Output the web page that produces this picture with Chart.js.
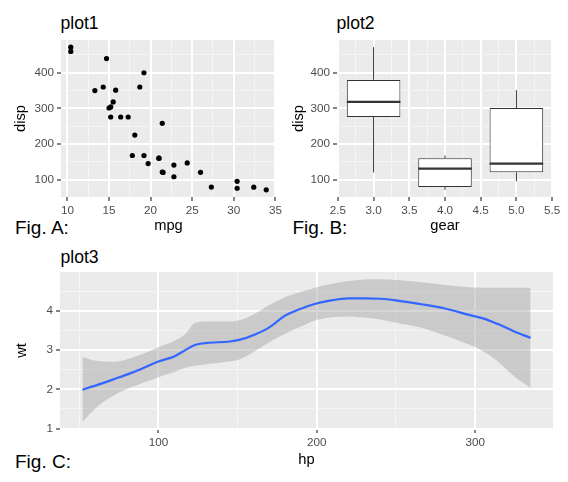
<!DOCTYPE html>
<html>
<head>
<meta charset="utf-8">
<script src="https://cdn.jsdelivr.net/npm/chart.js@4"></script>
<style>
  html, body { margin: 0; padding: 0; background: #fff; }
  body { position: relative; width: 568px; height: 482px; overflow: hidden;
         font-family: 'Liberation Sans', Arial, sans-serif; }
  .pane { position: absolute; }
  .ttl { position: absolute; font-size: 17.6px; line-height: 20px; color: #000; white-space: nowrap; }
  .fig { position: absolute; font-size: 19px; line-height: 22px; color: #000; white-space: nowrap; }
</style>
</head>
<body>

<div class="ttl" style="left:60.5px; top:13px;">plot1</div>
<div class="ttl" style="left:336.5px; top:13px;">plot2</div>
<div class="ttl" style="left:60.5px; top:246.5px;">plot3</div>
<div class="fig" style="left:15px; top:216.5px;">Fig. A:</div>
<div class="fig" style="left:292.5px; top:216.5px;">Fig. B:</div>
<div class="fig" style="left:15px; top:450.5px;">Fig. C:</div>

<canvas id="plot1" class="pane" width="285" height="245" style="left:0; top:0;"></canvas>
<canvas id="plot2" class="pane" width="283" height="245" style="left:285px; top:0;"></canvas>
<canvas id="plot3" class="pane" width="568" height="237" style="left:0; top:245px;"></canvas>

<script>
// ── plot1: mpg vs disp ───────────────────────
const mpg  = [21, 21, 22.8, 21.4, 18.7, 18.1, 14.3, 24.4, 22.8, 19.2, 17.8, 16.4, 17.3, 15.2, 10.4, 10.4,
              14.7, 32.4, 30.4, 33.9, 21.5, 15.5, 15.2, 13.3, 19.2, 27.3, 26, 30.4, 15.8, 19.7, 15, 21.4];
const disp = [160, 160, 108, 258, 360, 225, 360, 146.7, 140.8, 167.6, 167.6, 275.8, 275.8, 275.8, 472, 460,
              440, 78.7, 75.7, 71.1, 120.1, 318, 304, 350, 400, 79, 120.3, 95.1, 351, 145, 301, 121];

// ── plot2: disp by gear (box stats) ──────────
const gears   = [3, 4, 5];
const boxLow  = [120.1, 71.1, 95.1];
const boxQ1   = [275.8, 78.925, 120.3];
const boxMed  = [318, 130.9, 145];
const boxQ3   = [380, 160, 301];
const boxHigh = [472, 167.6, 351];
const boxWidth = 0.75;

// ── plot3: smooth of wt over hp ──────────────
const hpGrid  = [52, 62, 72, 83, 92, 100, 110, 117, 123, 130, 145, 151, 161, 170, 180,
                 189, 198, 208, 220, 230, 240, 250, 266, 281, 296, 305, 314, 324, 335];
const wtFit   = [1.99, 2.12, 2.26, 2.42, 2.57, 2.71, 2.84, 3.00, 3.13, 3.18, 3.22, 3.26, 3.40, 3.58, 3.88,
                 4.04, 4.17, 4.26, 4.32, 4.32, 4.31, 4.27, 4.17, 4.06, 3.90, 3.81, 3.67, 3.49, 3.31];
const wtUpper = [2.82, 2.72, 2.70, 2.80, 2.93, 3.07, 3.23, 3.41, 3.69, 3.73, 3.73, 3.76, 3.93, 4.15, 4.35,
                 4.47, 4.58, 4.68, 4.76, 4.80, 4.81, 4.79, 4.73, 4.66, 4.60, 4.59, 4.59, 4.59, 4.59];
const wtLower = [1.17, 1.58, 1.85, 2.05, 2.19, 2.31, 2.44, 2.55, 2.60, 2.64, 2.71, 2.76, 2.97, 3.20, 3.42,
                 3.58, 3.74, 3.83, 3.86, 3.83, 3.78, 3.70, 3.57, 3.37, 3.14, 2.97, 2.72, 2.35, 2.03];

// ── shared look (ggplot grey theme) ──────────
Chart.defaults.font.family = "'Liberation Sans', Arial, sans-serif";
Chart.defaults.animation = false;
Chart.defaults.plugins.legend.display = false;
Chart.defaults.plugins.tooltip.enabled = false;

const PANEL = '#EBEBEB';
const INK   = '#333333';

// expand a data range by 5% each side, like ggplot
function expand(lo, hi) {
    const pad = (hi - lo) * 0.05;
    return [lo - pad, hi + pad];
}

// major ticks every `step`, minor halfway between
function tickList(min, max, step) {
    const half = step / 2, out = [];
    for (let k = Math.ceil(min / half - 1e-9); k * half <= max + 1e-9; k++) {
        out.push({ value: +(k * half).toFixed(6), sub: Math.abs(k) % 2 === 1 });
    }
    return out;
}

function axis({ range, step, fmt, title, size, titlePad, vertical }) {
    return {
        type: 'linear',
        min: range[0],
        max: range[1],
        offset: false,
        afterBuildTicks: s => { s.ticks = tickList(range[0], range[1], step); },
        afterFit: s => { if (vertical) s.width = size; else s.height = size; },
        border: { display: false },
        grid: {
            offset: false,
            drawTicks: true,
            tickLength: 4,
            color: ctx => ctx.tick && ctx.tick.sub ? '#F5F5F5' : '#FFFFFF',
            lineWidth: ctx => ctx.tick && ctx.tick.sub ? 1 : 2,
            tickColor: ctx => ctx.tick && ctx.tick.sub ? 'rgba(0,0,0,0)' : INK,
            tickWidth: ctx => ctx.tick && ctx.tick.sub ? 0 : 1.2
        },
        ticks: {
            autoSkip: false,
            maxRotation: 0,
            padding: 3,
            color: '#4D4D4D',
            font: { size: 11.7 },
            callback: (v, i, ticks) => ticks[i].sub ? '' : fmt(v)
        },
        title: {
            display: true,
            text: title,
            color: '#000',
            font: { size: 14.7 },
            padding: vertical ? { top: titlePad, bottom: 0 } : { top: 0, bottom: titlePad }
        }
    };
}

// grey panel behind the chart area
const panelBg = {
    id: 'panelBg',
    beforeDraw(chart) {
        const { ctx, chartArea: a } = chart;
        ctx.save();
        ctx.fillStyle = PANEL;
        ctx.fillRect(a.left, a.top, a.right - a.left, a.bottom - a.top);
        ctx.restore();
    }
};

const dispRange = expand(Math.min(...disp), Math.max(...disp));
const int = v => String(Math.round(v));

// ── plot1 ────────────────────────────────────
new Chart(document.getElementById('plot1'), {
    type: 'scatter',
    data: {
        datasets: [{
            data: mpg.map((m, i) => ({ x: m, y: disp[i] })),
            backgroundColor: '#000',
            borderWidth: 0,
            pointRadius: 2.6
        }]
    },
    options: {
        responsive: false,
        devicePixelRatio: 1,
        layout: { padding: { top: 40, right: 9, left: 0, bottom: 0 } },
        scales: {
            x: axis({ range: expand(Math.min(...mpg), Math.max(...mpg)), step: 5, fmt: int,
                      title: 'mpg', size: 48, titlePad: 10 }),
            y: axis({ range: dispRange, step: 100, fmt: int,
                      title: 'disp', size: 61, titlePad: 12, vertical: true })
        }
    },
    plugins: [panelBg]
});

// ── plot2 ────────────────────────────────────
const gearRange = expand(Math.min(...gears) - boxWidth / 2, Math.max(...gears) + boxWidth / 2);

new Chart(document.getElementById('plot2'), {
    type: 'bar',
    data: {
        datasets: [
            {   // medians
                type: 'line',
                data: gears.flatMap((g, i) => [
                    { x: g - boxWidth / 2, y: boxMed[i] }, { x: g + boxWidth / 2, y: boxMed[i] }, { x: g, y: null }
                ]),
                borderColor: INK,
                borderWidth: 2.2,
                pointRadius: 0,
                spanGaps: false
            },
            {   // boxes (bar width is measured against the 0.25 minor tick gap)
                data: gears.map((g, i) => ({ x: g, y: [boxQ1[i], boxQ3[i]] })),
                backgroundColor: '#FFFFFF',
                borderColor: INK,
                borderWidth: 1,
                borderSkipped: false,
                categoryPercentage: 1,
                barPercentage: boxWidth / 0.25
            },
            {   // whiskers
                type: 'line',
                data: gears.flatMap((g, i) => [
                    { x: g, y: boxLow[i] }, { x: g, y: boxQ1[i] }, { x: g, y: null },
                    { x: g, y: boxQ3[i] }, { x: g, y: boxHigh[i] }, { x: g, y: null }
                ]),
                borderColor: INK,
                borderWidth: 1,
                pointRadius: 0,
                spanGaps: false
            }
        ]
    },
    options: {
        responsive: false,
        devicePixelRatio: 1,
        layout: { padding: { top: 40, right: 15, left: 0, bottom: 0 } },
        scales: {
            x: axis({ range: gearRange, step: 0.5, fmt: v => v.toFixed(1),
                      title: 'gear', size: 48, titlePad: 10 }),
            y: axis({ range: dispRange, step: 100, fmt: int,
                      title: 'disp', size: 52, titlePad: 5.5, vertical: true })
        }
    },
    plugins: [panelBg]
});

// ── plot3 ────────────────────────────────────
const pts = arr => hpGrid.map((h, i) => ({ x: h, y: arr[i] }));

new Chart(document.getElementById('plot3'), {
    type: 'line',
    data: {
        datasets: [
            {
                data: pts(wtFit),
                borderColor: '#3366FF',
                borderWidth: 2.2,
                pointRadius: 0,
                cubicInterpolationMode: 'monotone',
                fill: false
            },
            {
                data: pts(wtUpper),
                borderWidth: 0,
                pointRadius: 0,
                cubicInterpolationMode: 'monotone',
                backgroundColor: 'rgba(153,153,153,0.4)',
                fill: '+1'
            },
            {
                data: pts(wtLower),
                borderWidth: 0,
                pointRadius: 0,
                cubicInterpolationMode: 'monotone',
                fill: false
            }
        ]
    },
    options: {
        responsive: false,
        devicePixelRatio: 1,
        layout: { padding: { top: 27, right: 15, left: 0, bottom: 0 } },
        scales: {
            x: axis({ range: expand(Math.min(...hpGrid), Math.max(...hpGrid)), step: 100, fmt: int,
                      title: 'hp', size: 53, titlePad: 13 }),
            y: axis({ range: expand(Math.min(...wtLower), Math.max(...wtUpper)), step: 1, fmt: int,
                      title: 'wt', size: 60, titlePad: 13, vertical: true })
        }
    },
    plugins: [panelBg]
});
</script>
</body>
</html>
